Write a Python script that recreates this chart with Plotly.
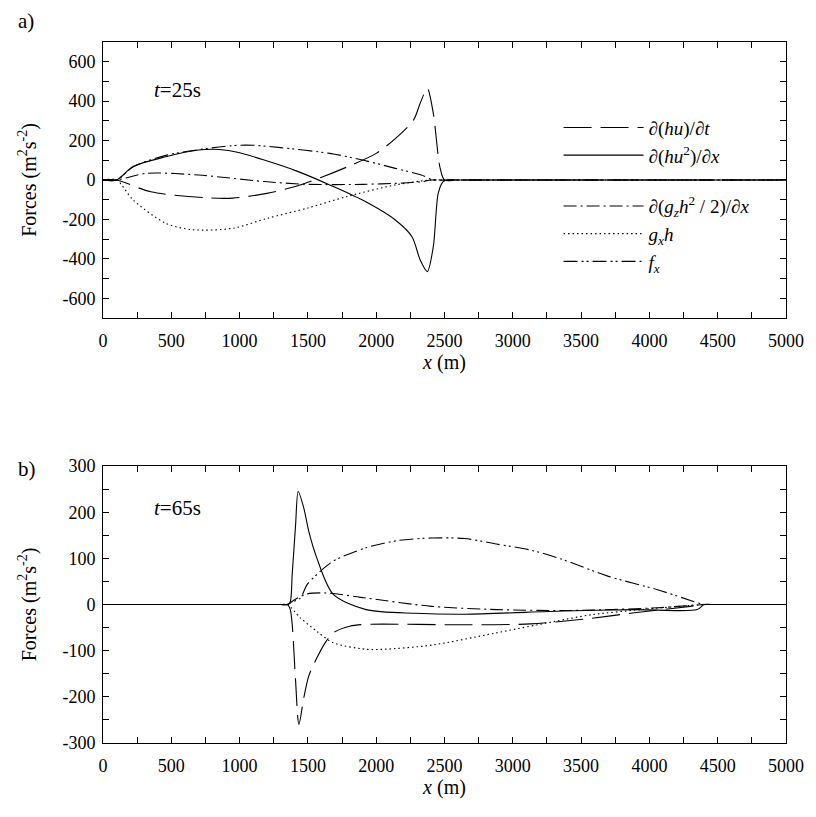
import plotly.graph_objects as go

# ---------------- data ----------------
# Panel a) t = 25 s
a_hut_x = [0, 100, 350, 750, 950, 1200, 1420, 1600, 1800, 2000, 2142, 2274, 2322, 2374, 2418, 2466, 2500, 2600, 5000]
a_hut_y = [0, 0, -60, -90, -92, -68, -30, 14, 70, 135, 211, 305, 389, 465, 338, 67, 0, 0, 0]

a_hu2_x = [0, 100, 220, 460, 700, 850, 1000, 1180, 1420, 1660, 1900, 2140, 2262, 2322, 2374, 2418, 2454, 2490, 2520, 2600, 5000]
a_hu2_y = [0, 0, 68, 118, 152, 155, 138, 101, 45, -25, -102, -203, -288, -406, -465, -338, -68, -8, 0, 0, 0]

a_gz_x = [0, 100, 320, 700, 1180, 1500, 1900, 2200, 2340, 2400, 2500, 5000]
a_gz_y = [0, 0, 34, 25, -8, -22, -22, -15, -8, 0, 0, 0]

a_gxh_x = [0, 100, 220, 460, 650, 950, 1200, 1500, 1780, 2140, 2400, 2500, 5000]
a_gxh_y = [0, 0, -101, -220, -252, -245, -195, -142, -85, -25, 0, 0, 0]

a_fx_x = [0, 100, 220, 460, 940, 1100, 1300, 1660, 1900, 2140, 2330, 2420, 2520, 5000]
a_fx_y = [0, 0, 66, 125, 174, 176, 164, 135, 101, 59, 25, 0, 0, 0]

# Panel b) t = 65 s
b_hut_x = [0, 1300, 1350, 1370, 1385, 1410, 1434, 1470, 1506, 1565, 1626, 1686, 1806, 1926, 2650, 3130, 3510, 3890, 4300, 4400, 4450, 5000]
b_hut_y = [0, 0, 0, -10, -43, -166, -260, -202, -155, -116, -83, -61, -47, -43, -44, -42, -32, -18, -4, 0, 0, 0]

b_hu2_x = [0, 1300, 1350, 1370, 1385, 1410, 1429, 1470, 1506, 1565, 1686, 1926, 2290, 2650, 3370, 3900, 4350, 4400, 4450, 5000]
b_hu2_y = [0, 0, 0, 5, 65, 173, 245, 209, 159, 101, 22, -11, -19, -21, -14, -11, -11, 0, 0, 0]

b_gz_x = [0, 1300, 1350, 1400, 1494, 1640, 1926, 2406, 2886, 3370, 3583, 4063, 4400, 4450, 5000]
b_gz_y = [0, 0, 0, 10, 23, 25, 14, -4, -11, -13, -12, -7, 0, 0, 0]

b_gxh_x = [0, 1300, 1350, 1445, 1565, 1686, 1926, 2050, 2406, 2870, 3300, 3580, 3940, 4300, 4400, 4450, 5000]
b_gxh_y = [0, 0, 0, -29, -58, -83, -97, -97, -88, -62, -37, -22, -11, -2, 0, 0, 0]

b_fx_x = [0, 1300, 1350, 1398, 1445, 1494, 1565, 1686, 1926, 2166, 2406, 2646, 2880, 3130, 3350, 3700, 4060, 4350, 4400, 4450, 5000]
b_fx_y = [0, 0, 0, 7, 14, 43, 65, 94, 123, 139, 144, 143, 131, 118, 99, 61, 32, 4, 0, 0, 0]

series_names = [
    "∂(<i>hu</i>)/∂<i>t</i>",
    "∂(<i>hu</i><sup>2</sup>)/∂<i>x</i>",
    "∂(<i>g<sub>z</sub>h</i><sup>2</sup> / 2)/∂<i>x</i>",
    "<i>g<sub>x</sub>h</i>",
    "<i>f<sub>x</sub></i>",
]

x_tickvals = [0, 500, 1000, 1500, 2000, 2500, 3000, 3500, 4000, 4500, 5000]
x_ticktext = ["0", "500", "1000", "1500", "2000", "2500", "3000", "3500", "4000", "4500", "5000"]
a_tickvals = [-600, -400, -200, 0, 200, 400, 600]
a_ticktext = ["-600", "-400", "-200", "0", "200", "400", "600"]
b_tickvals = [-300, -200, -100, 0, 100, 200, 300]
b_ticktext = ["-300", "-200", "-100", "0", "100", "200", "300"]

# ---------------- styles ----------------
FONT = "Liberation Serif, Times New Roman, serif"
dashes = ["28px,9px", "solid", "13px,4px,2px,4px", "1.5px,3px", "14px,4px,2px,3px,2px,4px"]
legends = ["legend", "legend", "legend2", "legend2", "legend2"]

fig = go.Figure()

a_data = [(a_hut_x, a_hut_y), (a_hu2_x, a_hu2_y), (a_gz_x, a_gz_y), (a_gxh_x, a_gxh_y), (a_fx_x, a_fx_y)]
b_data = [(b_hut_x, b_hut_y), (b_hu2_x, b_hu2_y), (b_gz_x, b_gz_y), (b_gxh_x, b_gxh_y), (b_fx_x, b_fx_y)]

for i, (xs, ys) in enumerate(a_data):
    fig.add_trace(go.Scatter(
        x=xs, y=ys, mode="lines", name=series_names[i],
        line=dict(color="black", width=1.1, dash=dashes[i], shape="spline", smoothing=0.8),
        xaxis="x", yaxis="y", legend=legends[i], showlegend=True,
    ))
for i, (xs, ys) in enumerate(b_data):
    fig.add_trace(go.Scatter(
        x=xs, y=ys, mode="lines", name=series_names[i],
        line=dict(color="black", width=1.1, dash=dashes[i], shape="spline", smoothing=0.8),
        xaxis="x2", yaxis="y2", showlegend=False,
    ))


def axis_common(minor_dtick, standoff):
    return dict(
        showline=True, linecolor="black", linewidth=1, mirror="ticks",
        ticks="inside", ticklen=6, tickcolor="black", tickwidth=1,
        showgrid=False, zeroline=False, ticklabelstandoff=standoff,
        minor=dict(tickmode="linear", tick0=0, dtick=minor_dtick, ticks="inside",
                   ticklen=6, tickcolor="black", tickwidth=1, showgrid=False),
        tickfont=dict(family=FONT, size=18, color="black"),
    )


xtitle = dict(text="<i>x</i> (m)", font=dict(family=FONT, size=20), standoff=1)
ytitle = dict(text="Forces (m<sup>2</sup>s<sup>-2</sup>)", font=dict(family=FONT, size=20), standoff=20)

fig.update_layout(
    width=808, height=809,
    margin=dict(l=95, r=20, t=34, b=74),
    paper_bgcolor="white", plot_bgcolor="white",
    font=dict(family=FONT, size=18, color="black"),
    xaxis=dict(domain=[0, 1], range=[0, 5000], anchor="y",
               tickmode="array", tickvals=x_tickvals, ticktext=x_ticktext,
               title=xtitle, **axis_common(250, 6)),
    yaxis=dict(domain=[0.6063, 1], range=[-700, 700], anchor="x",
               tickmode="array", tickvals=a_tickvals, ticktext=a_ticktext,
               title=ytitle, **axis_common(100, 3)),
    xaxis2=dict(domain=[0, 1], range=[0, 5000], anchor="y2",
                tickmode="array", tickvals=x_tickvals, ticktext=x_ticktext,
                title=xtitle, **axis_common(250, 6)),
    yaxis2=dict(domain=[0, 0.3951], range=[-300, 300], anchor="x2",
                tickmode="array", tickvals=b_tickvals, ticktext=b_ticktext,
                title=ytitle, **axis_common(50, 3)),
    legend=dict(x=0.667, y=0.905, xanchor="left", yanchor="top",
                bgcolor="rgba(0,0,0,0)", itemwidth=80, tracegroupgap=0,
                font=dict(family=FONT, size=19, color="black")),
    legend2=dict(x=0.667, y=0.793, xanchor="left", yanchor="top",
                 bgcolor="rgba(0,0,0,0)", itemwidth=80, tracegroupgap=0,
                 font=dict(family=FONT, size=19, color="black")),
    annotations=[
        dict(text="<i>t</i>=25s", xref="x domain", yref="y domain", x=0.072, y=0.826,
             xanchor="left", yanchor="middle", showarrow=False, font=dict(family=FONT, size=21)),
        dict(text="<i>t</i>=65s", xref="x2 domain", yref="y2 domain", x=0.072, y=0.848,
             xanchor="left", yanchor="middle", showarrow=False, font=dict(family=FONT, size=21)),
        dict(text="a)", xref="paper", yref="paper", x=-0.127, y=1.030,
             xanchor="left", yanchor="middle", showarrow=False, font=dict(family=FONT, size=21)),
        dict(text="b)", xref="paper", yref="paper", x=-0.127, y=0.391,
             xanchor="left", yanchor="middle", showarrow=False, font=dict(family=FONT, size=21)),
    ],
)

fig.write_html("out.html")
